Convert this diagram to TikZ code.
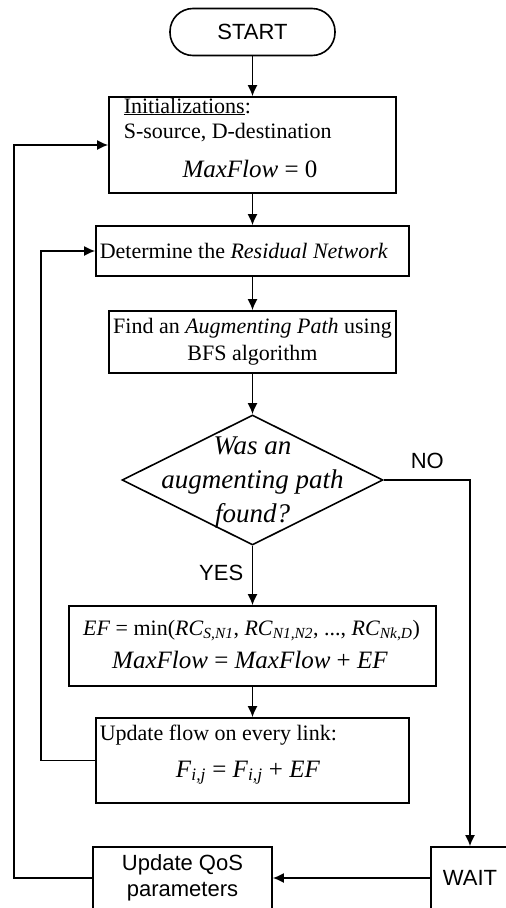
\documentclass[tikz,border=0pt]{standalone}
\usepackage{fontspec}
\setmainfont{Liberation Serif}
\setsansfont{Liberation Sans}
\usetikzlibrary{arrows.meta,shapes.geometric}

\newcommand{\sbs}[1]{\textsubscript{\itshape #1}}

\begin{document}
\begin{tikzpicture}[x=1pt,y=-1pt,
    line width=1.6pt, >={Latex[length=11pt,width=10pt]},
    box/.style={draw, rectangle, inner sep=0pt},
    txt/.style={font=\fontsize{22}{27}\selectfont},
    eq/.style={font=\fontsize{25}{30}\selectfont, inner sep=0pt},
    sans/.style={font=\sffamily\fontsize{22}{26}\selectfont}]
    \useasboundingbox (0,0) rectangle (506,908);
    \clip (0,0) rectangle (506,908);

    % Draw the blocks of the flowchart
    \node[box, sans, rounded corners=23pt, minimum width=165, minimum height=47] (start) at (252.5,32) {START};

    \node[box, minimum width=287, minimum height=96] (init) at (252.5,145) {};
    \node[txt, anchor=base west, inner sep=0pt] (initA) at (123,113) {\underline{Initializations}:};
    \node[txt, anchor=base west, inner sep=0pt] (initB) at (123,138) {S-source, D-destination};
    \node[eq, anchor=base] (initC) at (250,177) {\textit{MaxFlow} = 0};

    \node[box, minimum width=313, minimum height=50] (resid) at (252.5,251) {};
    \node[txt, anchor=base west, inner sep=0pt] (residT) at (99,258) {Determine the \textit{Residual Network}};

    \node[box, txt, align=center, minimum width=287, minimum height=62] (augment) at (252.5,342) {Find an \textit{Augmenting Path} using\\ BFS algorithm};

    % Draw the decision
    \node[draw, diamond, inner sep=0pt, minimum width=261, minimum height=130] (found) at (252.5,480) {};
    \node[font=\itshape\fontsize{27}{34}\selectfont, align=center, inner sep=0pt] (foundT) at (252.5,483) {Was an\\ augmenting path\\ found?};

    \node[box, minimum width=367, minimum height=80] (ef) at (252.5,646) {};
    \node[font=\fontsize{22}{26}\selectfont, anchor=base, inner sep=0pt] (efA) at (251.5,635) {\textit{EF} = min(\textit{RC}\sbs{S,N1}, \textit{RC}\sbs{N1,N2}, ..., \textit{RC}\sbs{Nk,D})};
    \node[eq, anchor=base] (efB) at (250,668) {\textit{MaxFlow} = \textit{MaxFlow} + \textit{EF}};

    \node[box, minimum width=313, minimum height=85] (flowupd) at (252.5,760.5) {};
    \node[txt, anchor=base west, inner sep=0pt] (flowA) at (99,740) {Update flow on every link:};
    \node[eq, anchor=base] (flowB) at (248,777) {\textit{F}\sbs{i,j} = \textit{F}\sbs{i,j} + \textit{EF}};

    \node[box, sans, align=center, minimum width=179, minimum height=62] (qos) at (182.5,878) {Update QoS\\ parameters};
    \node[box, sans, minimum width=78, minimum height=62] (wait) at (470,878) {WAIT};

    % Labels of the two branches
    \node[sans, anchor=base east, inner sep=0pt] (yes) at (244,580) {YES};
    \node[sans, anchor=base west, inner sep=0pt] (no) at (410,468) {NO};

    % Draw the arrows
    \draw[->] (start.south) -- (init.north);
    \draw[->] (init.south) -- (resid.north);
    \draw[->] (resid.south) -- (augment.north);
    \draw[->] (augment.south) -- (found.north);
    \draw[->] (found.south) -- (ef.north);
    \draw[->] (ef.south) -- (flowupd.north);
    \draw[->] (found.east) -| (wait.north);
    \draw[->] (wait.west) -- (qos.east);

    % Draw the two loops back
    \draw[->] (flowupd.west) -- ++(-54,0) |- (resid.west);
    \draw[->] (qos.west) -- ++(-78,0) |- (init.west);
\end{tikzpicture}
\end{document}
